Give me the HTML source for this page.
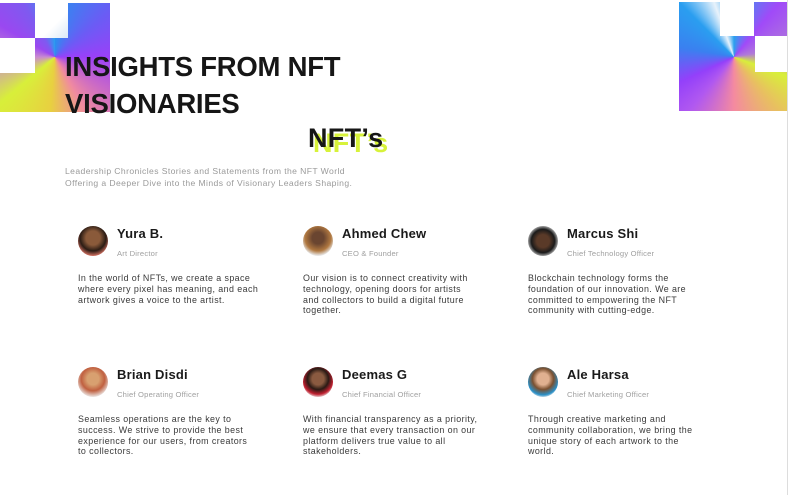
<!DOCTYPE html>
<html><head><meta charset="utf-8">
<style>
*{margin:0;padding:0;box-sizing:border-box}
body{width:788px;height:495px;background:#fff;position:relative;overflow:hidden;font-family:"Liberation Sans",sans-serif;color:#1a1a1a}
.abs{position:absolute}
.deco{position:absolute;overflow:hidden}
.wsq{position:absolute;background:#fff}
h1{position:absolute;left:65px;top:48px;font-size:27.5px;line-height:37px;font-weight:700;letter-spacing:-0.25px;color:#161616}
.nft{position:absolute;font-size:27px;font-weight:700;letter-spacing:0.3px}
.sub{position:absolute;left:65px;top:166px;font-size:8.6px;line-height:11.5px;color:#9a9a9a;letter-spacing:0.4px}
.card{position:absolute;width:200px;height:110px}
.av{position:absolute;left:0;top:0;width:30px;height:30px;border-radius:50%;overflow:hidden;background:#e9e9e9}
.name{position:absolute;left:39px;top:0px;font-size:13px;font-weight:700;color:#1a1a1a;letter-spacing:0.2px}
.role{position:absolute;left:39px;top:23px;font-size:7.6px;color:#a0a0a0;letter-spacing:0.2px}
.txt{position:absolute;left:0;top:47px;font-size:8.9px;line-height:10.8px;color:#3a3a3a;letter-spacing:0.42px;white-space:nowrap}
</style></head><body>
<div class="deco" style="left:0;top:3px;width:110px;height:109px;background:conic-gradient(from 0deg at 55px 54px,#2a8fef 0deg,#6a5cf5 50deg,#9a40f8 90deg,#f08aa0 150deg,#e8d040 185deg,#d8ef3a 230deg,#c98ad0 270deg,#9a48f0 300deg,#7e5af0 330deg,#2a9ef0 360deg)">
<div class="wsq" style="left:35px;top:0;width:33px;height:35px;background:linear-gradient(135deg,#fff 60%,#dbe8f7)"></div>
<div class="wsq" style="left:0;top:35px;width:35px;height:35px"></div>
</div>
<div class="deco" style="left:679px;top:2px;width:108px;height:109px;background:conic-gradient(from 0deg at 55px 55px,#2aa0ee 0deg,#a04af8 40deg,#b07ad8 80deg,#d8ef3a 110deg,#e8c060 140deg,#f48aa0 180deg,#b058f0 220deg,#9340fa 245deg,#3a80f0 280deg,#2a9ef0 315deg,#e8f2fb 340deg,#2aa0ee 360deg)">
<div class="wsq" style="left:41px;top:0;width:34px;height:34px"></div>
<div class="wsq" style="left:76px;top:34px;width:32px;height:36px"></div>
</div>
<div class="abs" style="left:787px;top:0;width:1px;height:495px;background:#ddd"></div>

<h1>INSIGHTS FROM NFT<br>VISIONARIES</h1>
<div class="nft" style="left:313px;top:128px;color:#d7f23a">NFT’s</div>
<div class="nft" style="left:308px;top:123px;color:#161616">NFT’s</div>
<div class="sub">Leadership Chronicles Stories and Statements from the NFT World<br>Offering a Deeper Dive into the Minds of Visionary Leaders Shaping.</div>

<div class="card" style="left:78px;top:226px">
<div class="av" style="background:radial-gradient(circle at 50% 40%,#8a5a3a 30%,#2b1c14 55%,#f08070 80%)"></div>
<div class="name">Yura B.</div>
<div class="role">Art Director</div>
<div class="txt">In the world of NFTs, we create a space<br>where every pixel has meaning, and each<br>artwork gives a voice to the artist.</div>
</div>
<div class="card" style="left:303px;top:226px">
<div class="av" style="background:radial-gradient(circle at 50% 40%,#6a4530 25%,#b07840 55%,#e8e8e8 75%)"></div>
<div class="name">Ahmed Chew</div>
<div class="role">CEO &amp; Founder</div>
<div class="txt">Our vision is to connect creativity with<br>technology, opening doors for artists<br>and collectors to build a digital future<br>together.</div>
</div>
<div class="card" style="left:528px;top:226px">
<div class="av" style="background:radial-gradient(circle at 50% 50%,#5a3a28 30%,#1a1a1a 55%,#f0f0f0 80%)"></div>
<div class="name">Marcus Shi</div>
<div class="role">Chief Technology Officer</div>
<div class="txt">Blockchain technology forms the<br>foundation of our innovation. We are<br>committed to empowering the NFT<br>community with cutting-edge.</div>
</div>

<div class="card" style="left:78px;top:367px">
<div class="av" style="background:radial-gradient(circle at 50% 40%,#d8a070 25%,#c06040 50%,#eee 78%)"></div>
<div class="name">Brian Disdi</div>
<div class="role">Chief Operating Officer</div>
<div class="txt">Seamless operations are the key to<br>success. We strive to provide the best<br>experience for our users, from creators<br>to collectors.</div>
</div>
<div class="card" style="left:303px;top:367px">
<div class="av" style="background:radial-gradient(circle at 50% 40%,#8a5a40 25%,#2a1a14 45%,#c02030 65%,#eee 80%)"></div>
<div class="name">Deemas G</div>
<div class="role">Chief Financial Officer</div>
<div class="txt">With financial transparency as a priority,<br>we ensure that every transaction on our<br>platform delivers true value to all<br>stakeholders.</div>
</div>
<div class="card" style="left:528px;top:367px">
<div class="av" style="background:radial-gradient(circle at 50% 40%,#e0b090 25%,#7a5030 45%,#2a90c8 68%,#eee 80%)"></div>
<div class="name">Ale Harsa</div>
<div class="role">Chief Marketing Officer</div>
<div class="txt">Through creative marketing and<br>community collaboration, we bring the<br>unique story of each artwork to the<br>world.</div>
</div>
</body></html>
